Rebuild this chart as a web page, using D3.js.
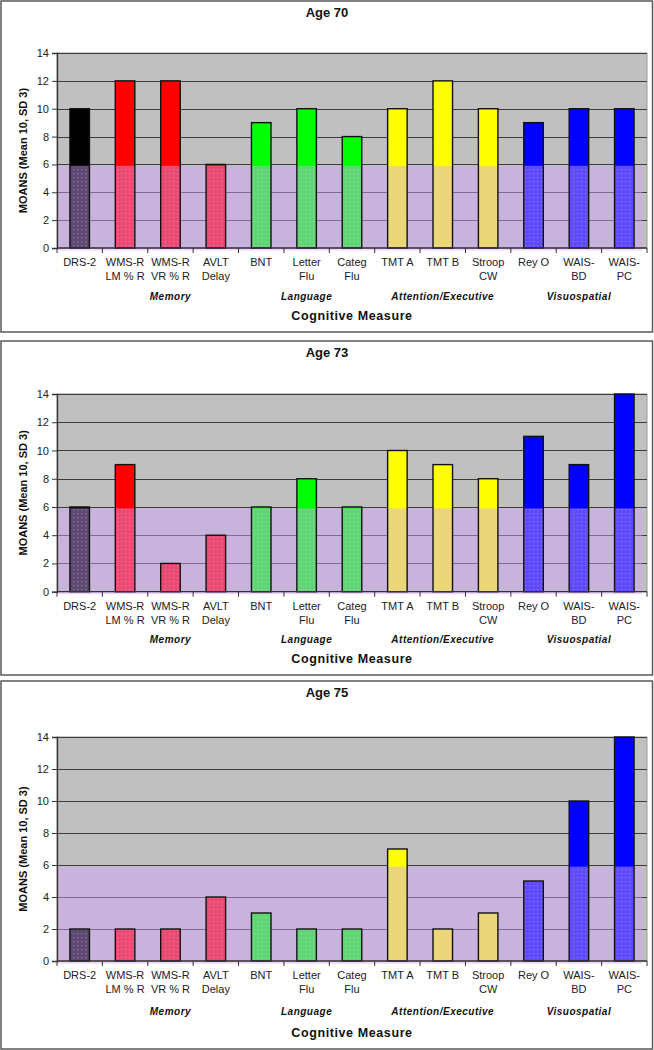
<!DOCTYPE html>
<html><head><meta charset="utf-8">
<script src="https://cdn.jsdelivr.net/npm/d3@7"></script>
<style>
html,body{margin:0;padding:0;background:#fff;}
svg{display:block;font-family:"Liberation Sans",Arial,sans-serif;}
</style></head>
<body>
<svg id="chart" width="654" height="1050"></svg>
<script>
// ---- data ----
const categories = ["DRS-2","WMS-R LM % R","WMS-R VR % R","AVLT Delay","BNT","Letter Flu","Categ Flu","TMT A","TMT B","Stroop CW","Rey O","WAIS-BD","WAIS-PC"];
const categoryLines = [["DRS-2"],["WMS-R","LM % R"],["WMS-R","VR % R"],["AVLT","Delay"],["BNT"],["Letter","Flu"],["Categ","Flu"],["TMT A"],["TMT B"],["Stroop","CW"],["Rey O"],["WAIS-","BD"],["WAIS-","PC"]];
const categoryDomain = ["Screen","Memory","Memory","Memory","Language","Language","Language","Attention/Executive","Attention/Executive","Attention/Executive","Visuospatial","Visuospatial","Visuospatial"];
const groupLabels = ["Memory","Language","Attention/Executive","Visuospatial"];
const domainColors = {"Screen":"#000000","Memory":"#ff0000","Language":"#00ff00","Attention/Executive":"#ffff00","Visuospatial":"#0000ff"};
const panelTitles = ["Age 70","Age 73","Age 75"];
const values70 = [10,12,12,6,9,10,8,10,12,10,9,10,10];
const values73 = [6,9,2,4,6,8,6,10,9,8,11,9,14];
const values75 = [2,2,2,4,3,2,2,7,2,3,5,10,14];
const yTicks = [0,2,4,6,8,10,12,14];
const bandRange = [-0.17, 5.9];
const yTitle = "MOANS (Mean 10, SD 3)";
const xTitle = "Cognitive Measure";

// ---- layout ----
const panels = [
  {title: panelTitles[0], values: values70, top: 1,   bottom: 332,  plotTop: 53,  plotBottom: 248,   grpOff: 48, titleOff: 68},
  {title: panelTitles[1], values: values73, top: 341, bottom: 675,  plotTop: 394, plotBottom: 591.7, grpOff: 47, titleOff: 67},
  {title: panelTitles[2], values: values75, top: 681, bottom: 1049, plotTop: 737, plotBottom: 961,   grpOff: 50, titleOff: 72}
];
const plotLeft = 57, plotRight = 647;

const svg = d3.select("#chart");
const defs = svg.append("defs");
const pat = defs.append("pattern").attr("id","dots").attr("patternUnits","userSpaceOnUse")
  .attr("width",4).attr("height",4);
pat.append("rect").attr("x",1).attr("y",1).attr("width",1.3).attr("height",1.3).attr("fill","#ffffff").attr("opacity",0.3);

const x = d3.scaleBand().domain(categories).range([plotLeft, plotRight]).padding(0);
const barW = x.bandwidth() * 0.43;

panels.forEach(p => {
  const g = svg.append("g");
  g.append("rect").attr("x",1).attr("y",p.top).attr("width",651.5).attr("height",p.bottom-p.top)
    .attr("fill","#fff").attr("stroke","#5a5a5a").attr("stroke-width",1.5);

  const y = d3.scaleLinear().domain([0,14]).range([p.plotBottom, p.plotTop]);

  g.append("rect").attr("x",plotLeft).attr("y",y(14)).attr("width",plotRight-plotLeft)
    .attr("height",y(0)-y(14)).attr("fill","#c0c0c0").attr("stroke","#9a9a9a").attr("stroke-width",1);

  g.selectAll(".grid").data(yTicks.filter(t=>t>0)).join("line")
    .attr("x1",plotLeft).attr("x2",plotRight)
    .attr("y1",d=>Math.round(y(d))+0.5).attr("y2",d=>Math.round(y(d))+0.5)
    .attr("stroke","#3c3c3c").attr("stroke-width",1);

  const data = categories.map((c,i)=>({c, v:p.values[i], col: domainColors[categoryDomain[i]]}));
  const bx = d => x(d.c)+(x.bandwidth()-barW)/2;
  g.selectAll(".bar").data(data).join("rect")
    .attr("x",bx).attr("y",d=>y(d.v)).attr("width",barW)
    .attr("height",d=>y(0)-y(d.v)).attr("fill",d=>d.col);

  g.selectAll(".tex").data(data).join("rect")
    .attr("x",bx).attr("y",d=>y(Math.min(d.v,bandRange[1])))
    .attr("width",barW).attr("height",d=>y(0)-y(Math.min(d.v,bandRange[1])))
    .attr("fill","url(#dots)");

  g.append("rect").attr("x",plotLeft).attr("y",y(bandRange[1]))
    .attr("width",plotRight-plotLeft-5).attr("height",y(bandRange[0])-y(bandRange[1]))
    .attr("fill","rgb(210,165,255)").attr("opacity",0.45);

  // bar outlines on top
  g.selectAll(".outline").data(data).join("rect")
    .attr("x",bx).attr("y",d=>y(d.v)).attr("width",barW)
    .attr("height",d=>y(0)-y(d.v)).attr("fill","none")
    .attr("stroke","#111").attr("stroke-width",1.4);

  const yAxis = d3.axisLeft(y).tickValues(yTicks).tickSize(5).tickPadding(3).tickFormat(d3.format("d"));
  const ya = g.append("g").attr("transform",`translate(${plotLeft},0)`).call(yAxis);
  ya.select(".domain").attr("stroke","#333").attr("stroke-width",1.3);
  ya.selectAll(".tick line").attr("stroke","#333");
  ya.selectAll(".tick text").attr("font-size",11).attr("fill","#222").attr("font-family","Liberation Sans, Arial, sans-serif");

  g.append("line").attr("x1",plotLeft).attr("x2",plotRight).attr("y1",y(0)).attr("y2",y(0))
    .attr("stroke","#333").attr("stroke-width",1.3);
  const bounds = categories.map(c=>x(c)).concat([plotRight]);
  g.selectAll(".xt").data(bounds).join("line")
    .attr("x1",d=>d).attr("x2",d=>d).attr("y1",y(0)).attr("y2",y(0)+5)
    .attr("stroke","#333").attr("stroke-width",1);

  const lab = g.selectAll(".clab").data(categoryLines).join("text")
    .attr("text-anchor","middle").attr("font-size",11).attr("fill","#222");
  lab.each(function(lines,i){
    const t = d3.select(this);
    lines.forEach((ln,j)=>{
      t.append("tspan").attr("x",x(categories[i])+x.bandwidth()/2)
        .attr("y",y(0)+18+j*14).text(ln);
    });
  });

  groupLabels.forEach(gl=>{
    const xs = categories.filter((c,i)=>categoryDomain[i]===gl).map(c=>x(c)+x.bandwidth()/2);
    g.append("text").attr("x",d3.mean(xs)).attr("y",y(0)+p.grpOff+4)
      .attr("text-anchor","middle").attr("font-size",10).attr("font-weight","bold")
      .attr("font-style","italic").attr("letter-spacing",0.5).attr("fill","#111").text(gl);
  });

  g.append("text").attr("x",(plotLeft+plotRight)/2).attr("y",y(0)+p.titleOff+4)
    .attr("text-anchor","middle").attr("font-size",12.5).attr("font-weight","bold")
    .attr("letter-spacing",0.6).attr("fill","#111").text(xTitle);

  g.append("text").attr("transform",`translate(27,${(p.plotTop+p.plotBottom)/2}) rotate(-90)`)
    .attr("text-anchor","middle").attr("font-size",11).attr("font-weight","bold")
    .attr("fill","#111").text(yTitle);

  g.append("text").attr("x",327).attr("y",p.top+16).attr("text-anchor","middle")
    .attr("font-size",13).attr("font-weight","bold").attr("fill","#111").text(p.title);
});
</script>
</body></html>
